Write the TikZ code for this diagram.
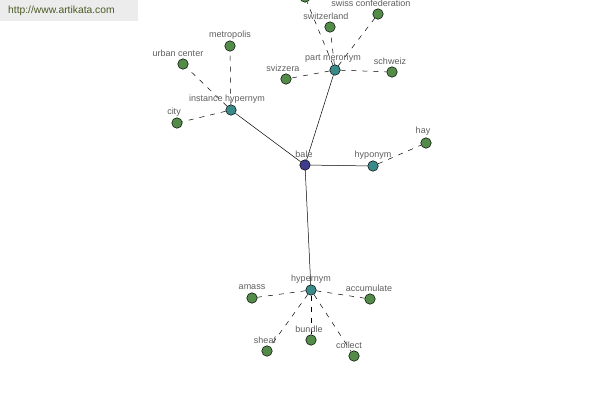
\documentclass[tikz,border=0pt]{standalone}
\usepackage{fontspec}
\setmainfont{Liberation Sans}
\definecolor{leafc}{RGB}{82,140,72}
\definecolor{hubc}{RGB}{58,138,138}
\definecolor{rootc}{RGB}{62,62,140}
\definecolor{labc}{RGB}{95,95,95}
\definecolor{bannerbg}{RGB}{236,236,236}
\definecolor{bannertx}{RGB}{75,90,35}
\tikzset{
  dot/.style={circle,draw=black,line width=0.5pt,minimum size=10.5pt,inner sep=0pt},
  leaf/.style={dot,fill=leafc},
  hub/.style={dot,fill=hubc},
  root/.style={dot,fill=rootc},
  lab/.style={font=\fontsize{9}{10}\selectfont,text=labc,inner sep=0pt},
  rel/.style={draw=black,line width=0.5pt},
  syn/.style={draw=black,line width=0.5pt,dash pattern=on 5pt off 6pt}
}
\begin{document}
\begin{tikzpicture}[x=1pt,y=-1pt]
\useasboundingbox (0,0) rectangle (600,400);
\clip (0,0) rectangle (600,400);
\fill[white] (0,0) rectangle (600,400);
% banner
\node[fill=bannerbg,minimum width=138pt,minimum height=21pt,anchor=north west,inner sep=0pt] (banner) at (0,0) {};
\node[font=\fontsize{10.3}{12}\selectfont,text=bannertx,anchor=west,inner sep=0pt] (url) at (8,11) {http://www.artikata.com};
% nodes
\node[root] (bale) at (305,165) {};
\node[hub] (pm) at (335,70) {};
\node[hub] (ih) at (231,110) {};
\node[hub] (hypo) at (373,166) {};
\node[hub] (hyper) at (311,290) {};
\node[leaf] (swl) at (330,27) {};
\node[leaf] (swc) at (378,14) {};
\node[leaf] (sch) at (392,72) {};
\node[leaf] (svz) at (286,79) {};
\node[leaf] (top) at (305,-3) {};
\node[leaf] (met) at (230,46) {};
\node[leaf] (urb) at (183,64) {};
\node[leaf] (city) at (177,123) {};
\node[leaf] (hay) at (426,143) {};
\node[leaf] (ama) at (252,298) {};
\node[leaf] (acc) at (370,299) {};
\node[leaf] (she) at (267,351) {};
\node[leaf] (bun) at (311,340) {};
\node[leaf] (col) at (354,356) {};
% edges
\path[rel] (bale) -- (pm);
\path[rel] (bale) -- (ih);
\path[rel] (bale) -- (hypo);
\path[rel] (bale) -- (hyper);
\path[syn] (pm) -- (swl);
\path[syn] (pm) -- (swc);
\path[syn] (pm) -- (sch);
\path[syn] (pm) -- (svz);
\path[syn] (pm) -- (top);
\path[syn] (ih) -- (met);
\path[syn] (ih) -- (urb);
\path[syn] (ih) -- (city);
\path[syn] (hypo) -- (hay);
\path[syn] (hyper) -- (ama);
\path[syn] (hyper) -- (acc);
\path[syn] (hyper) -- (she);
\path[syn] (hyper) -- (bun);
\path[syn] (hyper) -- (col);
% labels
\node[lab] (l1) at (304,154) {bale};
\node[lab] (l2) at (333,59) {part meronym};
\node[lab] (l3) at (227,99) {instance hypernym};
\node[lab] (l4) at (373,155) {hyponym};
\node[lab] (l5) at (311,279) {hypernym};
\node[lab] (l6) at (326,16) {switzerland};
\node[lab] (l7) at (371,3) {swiss confederation};
\node[lab] (l8) at (390,61) {schweiz};
\node[lab] (l9) at (283,68) {svizzera};
\node[lab] (l10) at (230,35) {metropolis};
\node[lab] (l11) at (178,53) {urban center};
\node[lab] (l12) at (174,112) {city};
\node[lab] (l13) at (423,131) {hay};
\node[lab] (l14) at (252,287) {amass};
\node[lab] (l15) at (369,288) {accumulate};
\node[lab] (l16) at (265,340) {sheaf};
\node[lab] (l17) at (309,329) {bundle};
\node[lab] (l18) at (349,345) {collect};
\end{tikzpicture}
\end{document}
